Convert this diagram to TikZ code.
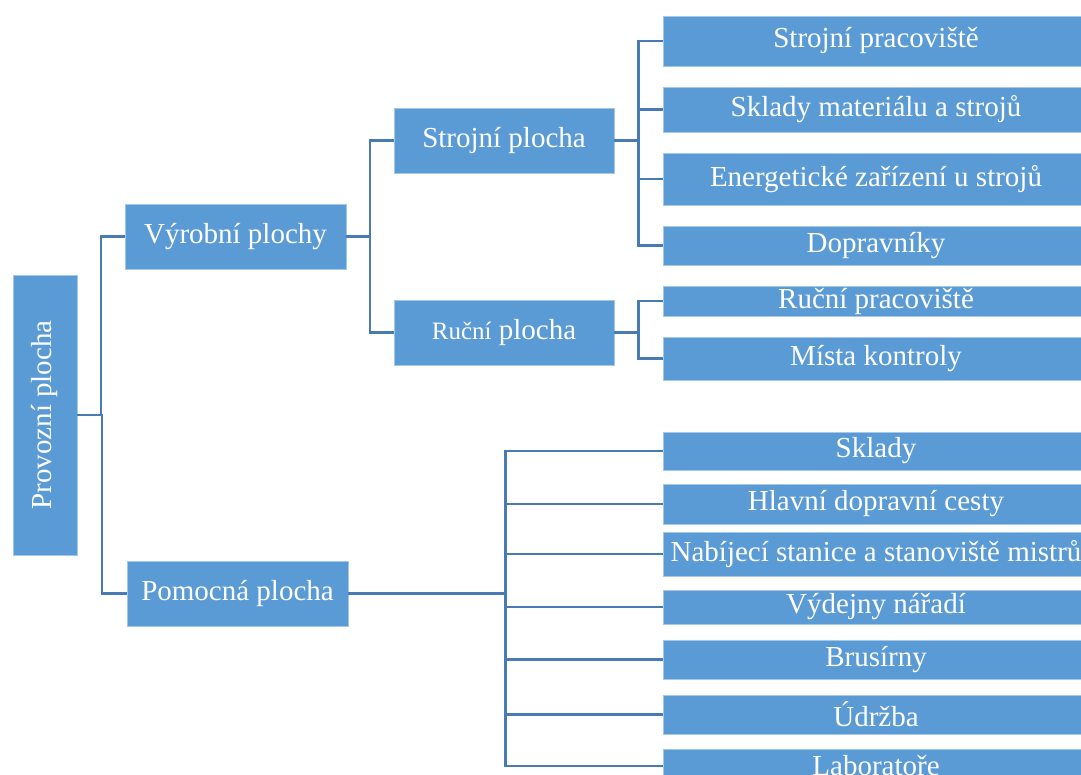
\documentclass[tikz,border=0pt]{standalone}
\usepackage{fontspec}
\setmainfont{Liberation Serif}
\usepackage{tikz}
\usepackage{graphicx}
\usetikzlibrary{positioning, calc}
\definecolor{boxblue}{RGB}{91, 155, 213}
\definecolor{linkblue}{RGB}{72, 122, 180}
\definecolor{edgeblue}{RGB}{165, 199, 232}
\tikzset{
    % Tree boxes
    tree box/.style={
        rectangle, fill=boxblue, draw=edgeblue, line width=0.8pt,
        inner sep=0pt, text=white,
        font=\fontsize{29}{32}\selectfont
    },
    % Level boxes in the middle
    mid box/.style={
        tree box, minimum width=221pt, minimum height=65pt
    },
    % Leaf boxes on the right
    leaf box/.style={
        tree box, minimum width=426pt
    },
    % Connectors
    link/.style={
        line width=2.7pt, color=linkblue
    },
    elbow/.style={
        to path={-| ($(\tikztostart)!0.5!(\tikztotarget)$) |- (\tikztotarget)}
    }
}
\begin{document}
\begin{tikzpicture}[x=1pt, y=-1pt]

    \useasboundingbox (0, 0) rectangle (1081, 775);
    \clip (0, 0) rectangle (1081, 775);

    % Root
    \node[tree box, minimum width=64pt, minimum height=280pt] (root) at (45, 415) {\rotatebox{90}{Provozní plocha}};

    % Second level
    \node[mid box] (vyr) at (235.5, 236.5) {Výrobní plochy};
    \node[mid box] (pom) at (237.5, 593.5) {Pomocná plocha};

    % Third level
    \node[mid box, minimum width=220pt] (strp) at (504, 140.5) {Strojní plocha};
    \node[mid box, minimum width=220pt] (rucp) at (504, 332.5) {{\fontsize{25}{28}\selectfont Ruční} plocha};

    % Leaves of Strojni plocha
    \node[leaf box, minimum height=50pt] (s1) at (876, 41) {Strojní pracoviště};
    \node[leaf box, minimum height=45pt] (s2) at (876, 109.5) {Sklady materiálu a strojů};
    \node[leaf box, minimum height=52pt] (s3) at (876, 179) {Energetické zařízení u strojů};
    \node[leaf box, minimum height=39pt] (s4) at (876, 245.5) {Dopravníky};

    % Leaves of Rucni plocha
    \node[leaf box, minimum height=30pt] (r1) at (876, 301) {Ruční pracoviště};
    \node[leaf box, minimum height=43pt] (r2) at (876, 358.5) {Místa kontroly};

    % Leaves of Pomocna plocha
    \node[leaf box, minimum height=38pt] (p1) at (876, 451) {Sklady};
    \node[leaf box, minimum height=40pt] (p2) at (876, 504) {Hlavní dopravní cesty};
    \node[leaf box, minimum height=44pt] (p3) at (876, 554) {Nabíjecí stanice a stanoviště mistrů};
    \node[leaf box, minimum height=34pt] (p4) at (876, 607) {Výdejny nářadí};
    \node[leaf box, minimum height=39pt] (p5) at (876, 659.5) {Brusírny};
    \node[leaf box, minimum height=39pt] (p6) at (876, 714.5) {Údržba};
    \node[leaf box, minimum height=34pt] (p7) at (876, 766) {Laboratoře};

    % Connectors from the root
    \draw[link] (root.east) to[elbow] (vyr.west);
    \draw[link] (root.east) to[elbow] (pom.west);

    % Connectors of Vyrobni plochy
    \draw[link] (vyr.east) to[elbow] (strp.west);
    \draw[link] (vyr.east) to[elbow] (rucp.west);

    % Connectors of Strojni plocha
    \draw[link] (strp.east) to[elbow] (s1.west);
    \draw[link] (strp.east) to[elbow] (s2.west);
    \draw[link] (strp.east) to[elbow] (s3.west);
    \draw[link] (strp.east) to[elbow] (s4.west);

    % Connectors of Rucni plocha
    \draw[link] (rucp.east) to[elbow] (r1.west);
    \draw[link] (rucp.east) to[elbow] (r2.west);

    % Connectors of Pomocna plocha
    \draw[link] (pom.east) to[elbow] (p1.west);
    \draw[link] (pom.east) to[elbow] (p2.west);
    \draw[link] (pom.east) to[elbow] (p3.west);
    \draw[link] (pom.east) to[elbow] (p4.west);
    \draw[link] (pom.east) to[elbow] (p5.west);
    \draw[link] (pom.east) to[elbow] (p6.west);
    \draw[link] (pom.east) to[elbow] (p7.west);

\end{tikzpicture}
\end{document}
